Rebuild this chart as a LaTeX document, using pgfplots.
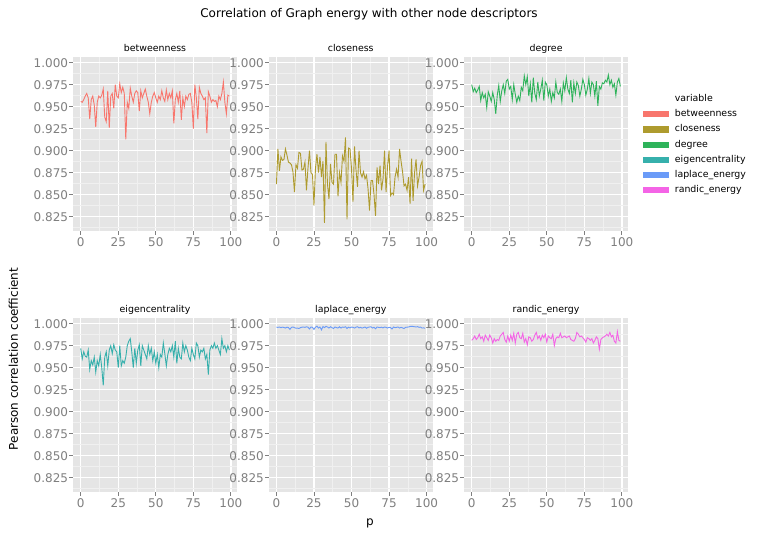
\documentclass[border=0pt]{standalone}
\usepackage{fontspec}
\setmainfont{DejaVu Sans}
\usepackage{pgfplots}
\usepackage{pgfplotstable}
\pgfplotsset{compat=1.18}
\definecolor{panelbg}{HTML}{E5E5E5}
\definecolor{minorgrid}{HTML}{F0F0F0}
\definecolor{tickgray}{HTML}{7F7F7F}
\definecolor{labelgray}{HTML}{7F7F7F}
\definecolor{cb}{HTML}{F8766D}
\definecolor{cc}{HTML}{AE9B2E}
\definecolor{cd}{HTML}{2EB35A}
\definecolor{ce}{HTML}{36B0AC}
\definecolor{cl}{HTML}{6A9BF8}
\definecolor{cr}{HTML}{F464E6}
\pgfplotstableread{
p b c d e l r
0 0.956 0.862 0.975 0.972 0.9960 0.981
1 0.955 0.902 0.967 0.960 0.9958 0.983
2 0.958 0.877 0.971 0.968 0.9962 0.986
3 0.962 0.893 0.966 0.963 0.9955 0.982
4 0.965 0.889 0.969 0.962 0.9960 0.984
5 0.960 0.890 0.973 0.970 0.9957 0.988
6 0.936 0.902 0.957 0.948 0.9950 0.983
7 0.958 0.895 0.966 0.958 0.9960 0.985
8 0.962 0.887 0.960 0.953 0.9956 0.980
9 0.952 0.886 0.964 0.962 0.9935 0.987
10 0.927 0.884 0.949 0.945 0.9958 0.984
11 0.955 0.876 0.967 0.958 0.9962 0.981
12 0.962 0.853 0.962 0.952 0.9955 0.987
13 0.960 0.884 0.956 0.965 0.9948 0.984
14 0.963 0.880 0.966 0.950 0.9950 0.978
15 0.970 0.898 0.958 0.930 0.9945 0.983
16 0.938 0.897 0.942 0.962 0.9955 0.980
17 0.933 0.878 0.963 0.968 0.9960 0.982
18 0.968 0.879 0.974 0.952 0.9962 0.981
19 0.926 0.887 0.956 0.970 0.9958 0.986
20 0.962 0.855 0.968 0.975 0.9965 0.988
21 0.965 0.880 0.975 0.966 0.9960 0.990
22 0.948 0.900 0.965 0.976 0.9940 0.982
23 0.975 0.875 0.979 0.970 0.9962 0.979
24 0.962 0.873 0.981 0.968 0.9958 0.986
25 0.960 0.838 0.970 0.950 0.9935 0.980
26 0.976 0.880 0.973 0.975 0.9960 0.987
27 0.966 0.896 0.958 0.952 0.9972 0.981
28 0.972 0.875 0.975 0.958 0.9950 0.989
29 0.965 0.893 0.964 0.955 0.9962 0.978
30 0.913 0.870 0.955 0.962 0.9930 0.988
31 0.955 0.888 0.962 0.975 0.9968 0.990
32 0.948 0.818 0.957 0.980 0.9955 0.984
33 0.971 0.910 0.972 0.983 0.9970 0.983
34 0.962 0.862 0.968 0.968 0.9962 0.989
35 0.955 0.845 0.985 0.950 0.9950 0.979
36 0.965 0.885 0.975 0.972 0.9965 0.983
37 0.968 0.864 0.984 0.955 0.9955 0.976
38 0.966 0.862 0.962 0.970 0.9945 0.985
39 0.945 0.896 0.976 0.976 0.9962 0.984
40 0.968 0.896 0.955 0.952 0.9955 0.980
41 0.960 0.848 0.983 0.975 0.9950 0.982
42 0.965 0.875 0.965 0.970 0.9965 0.987
43 0.970 0.864 0.958 0.965 0.9950 0.990
44 0.962 0.894 0.978 0.960 0.9962 0.983
45 0.955 0.888 0.962 0.975 0.9958 0.986
46 0.942 0.915 0.970 0.965 0.9965 0.981
47 0.955 0.822 0.980 0.972 0.9945 0.987
48 0.962 0.903 0.957 0.958 0.9960 0.984
49 0.966 0.902 0.978 0.968 0.9952 0.988
50 0.960 0.880 0.975 0.955 0.9962 0.979
51 0.955 0.842 0.962 0.965 0.9958 0.986
52 0.962 0.905 0.970 0.950 0.9950 0.984
53 0.958 0.878 0.956 0.965 0.9960 0.983
54 0.968 0.859 0.966 0.962 0.9965 0.988
55 0.960 0.900 0.960 0.978 0.9952 0.975
56 0.956 0.875 0.978 0.966 0.9958 0.983
57 0.969 0.870 0.966 0.952 0.9950 0.985
58 0.958 0.876 0.964 0.965 0.9955 0.984
59 0.965 0.868 0.970 0.972 0.9962 0.989
60 0.960 0.872 0.956 0.968 0.9948 0.984
61 0.968 0.857 0.977 0.975 0.9958 0.985
62 0.931 0.832 0.968 0.962 0.9962 0.986
63 0.958 0.866 0.983 0.980 0.9965 0.984
64 0.965 0.866 0.970 0.955 0.9950 0.985
65 0.955 0.850 0.965 0.972 0.9958 0.986
66 0.968 0.826 0.980 0.962 0.9942 0.982
67 0.935 0.881 0.955 0.960 0.9962 0.981
68 0.960 0.862 0.977 0.978 0.9958 0.980
69 0.950 0.883 0.965 0.968 0.9955 0.983
70 0.962 0.855 0.978 0.975 0.9960 0.990
71 0.958 0.868 0.974 0.970 0.9952 0.988
72 0.964 0.900 0.962 0.962 0.9962 0.985
73 0.965 0.853 0.970 0.958 0.9958 0.986
74 0.955 0.882 0.981 0.972 0.9950 0.984
75 0.925 0.900 0.975 0.965 0.9958 0.982
76 0.975 0.849 0.963 0.960 0.9955 0.979
77 0.960 0.852 0.970 0.978 0.9940 0.984
78 0.936 0.850 0.982 0.975 0.9962 0.983
79 0.972 0.870 0.965 0.962 0.9955 0.981
80 0.965 0.879 0.978 0.970 0.9958 0.983
81 0.962 0.870 0.975 0.968 0.9962 0.978
82 0.958 0.902 0.962 0.972 0.9950 0.981
83 0.960 0.888 0.979 0.960 0.9958 0.985
84 0.920 0.876 0.951 0.965 0.9952 0.983
85 0.967 0.860 0.973 0.942 0.9945 0.971
86 0.962 0.862 0.970 0.970 0.9958 0.982
87 0.955 0.855 0.977 0.975 0.9960 0.984
88 0.958 0.870 0.976 0.972 0.9962 0.985
89 0.956 0.840 0.980 0.978 0.9968 0.986
90 0.957 0.891 0.978 0.972 0.9970 0.988
91 0.950 0.843 0.986 0.975 0.9968 0.986
92 0.962 0.875 0.975 0.970 0.9965 0.990
93 0.958 0.890 0.980 0.965 0.9962 0.985
94 0.965 0.860 0.972 0.983 0.9966 0.987
95 0.978 0.870 0.976 0.972 0.9958 0.980
96 0.955 0.883 0.963 0.975 0.9962 0.978
97 0.942 0.888 0.978 0.968 0.9950 0.991
98 0.963 0.855 0.982 0.975 0.9952 0.981
99 0.962 0.862 0.973 0.970 0.9948 0.980
}\data
\pgfplotsset{
  panel/.style={
    scale only axis, width=163.5pt, height=173.4pt,
    xmin=-4.95, xmax=103.95, ymin=0.8091, ymax=1.0061,
    axis background/.style={fill=panelbg},
    axis line style={draw=none},
    tick align=outside, tick pos=left,
    major tick length=4pt, minor tick length=0pt,
    tick style={tickgray, line width=0.8pt},
    xtick={0,25,50,75,100},
    minor xtick={12.5,37.5,62.5,87.5},
    ytick={0.825,0.85,0.875,0.9,0.925,0.95,0.975,1.0},
    minor ytick={0.8125,0.8375,0.8625,0.8875,0.9125,0.9375,0.9625,0.9875},
    grid=both,
    major grid style={white, line width=1.3pt},
    minor grid style={minorgrid, line width=0.6pt},
    ticklabel style={font=\fontsize{12}{12}\selectfont, text=labelgray, inner sep=0pt},
    xticklabel style={anchor=north, yshift=-2.9pt},
    yticklabel style={anchor=east, xshift=-1pt, /pgf/number format/fixed, /pgf/number format/fixed zerofill, /pgf/number format/precision=3},
    scaled y ticks=false,
    /pgf/number format/assume math mode=true,
    title style={font=\fontsize{9.4}{9.4}\selectfont, at={(0.5,1)}, anchor=base, yshift=-0.7pt, inner sep=0pt},
    every axis plot/.append style={line width=0.9pt, mark=none},
  }
}
\begin{document}
\begin{tikzpicture}[x=1pt,y=1pt]
\useasboundingbox (0,0) rectangle (759,545);
\begin{axis}[panel, at={(73.3pt,314.3pt)}, anchor=south west, title={betweenness}]
\addplot[color=cb] table[x=p,y=b]{\data};
\end{axis}
\begin{axis}[panel, at={(269pt,314.3pt)}, anchor=south west, title={closeness}]
\addplot[color=cc] table[x=p,y=c]{\data};
\end{axis}
\begin{axis}[panel, at={(464.3pt,314.3pt)}, anchor=south west, title={degree},
  legend style={at={(1.091,0.7855)}, anchor=north west, draw=none, fill=none, inner sep=0pt, outer sep=0pt,
    row sep=6.2pt, font=\fontsize{9.4}{9.4}\selectfont,
    nodes={inner sep=0pt, text height=7pt, text depth=2pt},
    /tikz/every odd column/.append style={column sep=5.7pt}},
  legend cell align=left,
  legend image code/.code={\fill[#1] (0pt,-2.6pt) rectangle (25.6pt,2.6pt);}]
\addplot[color=cd, forget plot] table[x=p,y=d]{\data};
\addlegendimage{empty legend}\addlegendentry{variable}
\addlegendimage{cb}\addlegendentry{betweenness}
\addlegendimage{cc}\addlegendentry{closeness}
\addlegendimage{cd}\addlegendentry{degree}
\addlegendimage{ce}\addlegendentry{eigencentrality}
\addlegendimage{cl}\addlegendentry{laplace\_energy}
\addlegendimage{cr}\addlegendentry{randic\_energy}
\end{axis}
\begin{axis}[panel, at={(73.3pt,53.3pt)}, anchor=south west, title={eigencentrality}]
\addplot[color=ce] table[x=p,y=e]{\data};
\end{axis}
\begin{axis}[panel, at={(269pt,53.3pt)}, anchor=south west, title={laplace\_energy}]
\addplot[color=cl] table[x=p,y=l]{\data};
\end{axis}
\begin{axis}[panel, at={(464.3pt,53.3pt)}, anchor=south west, title={randic\_energy}]
\addplot[color=cr] table[x=p,y=r]{\data};
\end{axis}
\node[anchor=base, font=\fontsize{12}{12}\selectfont] at (369,527.5) {Correlation of Graph energy with other node descriptors};
\node[rotate=90, anchor=center, font=\fontsize{12}{12}\selectfont] at (13.3,186) {Pearson correlation coefficient};
\node[anchor=base, font=\fontsize{12}{12}\selectfont] at (370,19.5) {p};
\end{tikzpicture}
\end{document}
